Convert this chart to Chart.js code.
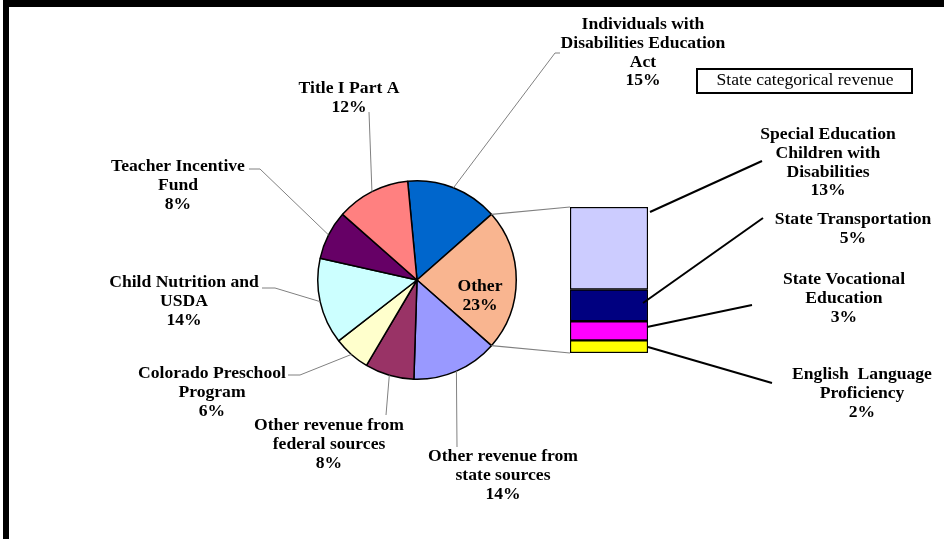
<!DOCTYPE html>
<html lang="en">
<head>
<meta charset="UTF-8" />
<title>Revenue sources</title>
<script src="https://cdn.jsdelivr.net/npm/chart.js@4.4.1/dist/chart.umd.min.js"></script>
<style>
  body { margin: 0; background: #fff; }
  #wrap { position: relative; width: 944px; height: 539px; overflow: hidden; }
  #wrap canvas { position: absolute; left: 0; top: 0; }
  #frame {
    position: absolute; left: 3px; top: 0; right: 0; bottom: 0;
    border-top: 7px solid #000; border-left: 6px solid #000;
  }
</style>
</head>
<body>
<div id="wrap">
  <div id="frame"></div>
  <canvas id="pieChart" width="944" height="539"></canvas>
  <canvas id="barChart" width="944" height="539"></canvas>
</div>
<script>
// pie slices, clockwise from the top
const pieLabels = [
  'Individuals with\nDisabilities Education\nAct',
  'Other',
  'Other revenue from\nstate sources',
  'Other revenue from\nfederal sources',
  'Colorado Preschool\nProgram',
  'Child Nutrition and\nUSDA',
  'Teacher Incentive\nFund',
  'Title I Part A'
]
const pieValues = [15, 23, 14, 8, 6, 14, 8, 12]
const pieColors = ['#0066CC', '#F9B590', '#9999FF', '#993366', '#FFFFCC', '#CCFFFF', '#660066', '#FF8080']

// bar segments that make up "Other", bottom to top
const barLabels = [
  'English  Language\nProficiency',
  'State Vocational\nEducation',
  'State Transportation',
  'Special Education\nChildren with\nDisabilities'
]
const barValues = [2, 3, 5, 13]
const barColors = ['#FFFF00', '#FF00FF', '#000080', '#CCCCFF']

const barTitle = 'State categorical revenue'

// label placement (first line centre + leader bends)
const pieLabelLayout = [
  { x: 643, y: 25, path: [[555, 53], [560, 53]] },
  { x: 480, y: 287 },
  { x: 503, y: 457, path: [[457, 447]] },
  { x: 329, y: 426, path: [[386, 415]] },
  { x: 212, y: 374, path: [[300, 375], [288, 375]] },
  { x: 184, y: 283, path: [[275, 288], [262, 288]] },
  { x: 178, y: 167, path: [[260, 169], [249, 169]] },
  { x: 349, y: 89, path: [[369, 112]] }
]
const barLabelLayout = [
  { x: 862, y: 375, fromY: 347, to: [772, 383], inset: 0 },
  { x: 844, y: 280, fromY: 327, to: [752, 305], inset: 1 },
  { x: 853, y: 220, fromY: 303, to: [763, 218], inset: 5 },
  { x: 828, y: 135, fromY: 212, to: [762, 161], inset: -2 }
]

const LINE_H = 18.7
const FONT = '"Liberation Serif", "Times New Roman", serif'

function drawLines(ctx, text, x, y, bold) {
  ctx.save()
  ctx.font = (bold ? 'bold ' : '') + '16px ' + FONT
  ctx.fillStyle = '#000'
  ctx.textAlign = 'center'
  ctx.textBaseline = 'middle'
  text.split('\n').forEach((t, i) => {
    ctx.save()
    ctx.translate(x, y + i * LINE_H)
    ctx.scale(1.1, 1)
    ctx.fillText(t, 0, 0)
    ctx.restore()
  })
  ctx.restore()
}

function pct(v, total) {
  return Math.round((v / total) * 100) + '%'
}

const pieTotal = pieValues.reduce((a, b) => a + b, 0)
// centre the "Other" slice on the right, like Excel's pie-of-bar
const pieRotation = 90 - (pieValues[1] / pieTotal) * 180 - (pieValues[0] / pieTotal) * 360

const pieLabelPlugin = {
  id: 'pieLabels',
  afterDraw(chart) {
    const ctx = chart.ctx
    const arcs = chart.getDatasetMeta(0).data
    arcs.forEach((arc, i) => {
      const lay = pieLabelLayout[i]
      const text = pieLabels[i] + '\n' + pct(pieValues[i], pieTotal)
      if (lay.path) {
        const mid = (arc.startAngle + arc.endAngle) / 2
        ctx.save()
        ctx.strokeStyle = '#808080'
        ctx.lineWidth = 1
        ctx.beginPath()
        ctx.moveTo(arc.x + arc.outerRadius * Math.cos(mid), arc.y + arc.outerRadius * Math.sin(mid))
        lay.path.forEach(p => ctx.lineTo(p[0], p[1]))
        ctx.stroke()
        ctx.restore()
      }
      drawLines(ctx, text, lay.x, lay.y, true)
    })

    // title box for the bar
    ctx.save()
    ctx.strokeStyle = '#000'
    ctx.lineWidth = 2
    ctx.strokeRect(697, 69, 215, 24)
    ctx.restore()
    drawLines(ctx, barTitle, 805, 81, false)
  }
}

const pieChart = new Chart(document.getElementById('pieChart'), {
  type: 'pie',
  data: {
    labels: pieLabels,
    datasets: [{
      data: pieValues,
      backgroundColor: pieColors,
      borderColor: '#000',
      borderWidth: 1.5
    }]
  },
  options: {
    responsive: false,
    devicePixelRatio: 1,
    animation: false,
    events: [],
    rotation: pieRotation,
    layout: { padding: { left: 317, right: 427, top: 180, bottom: 159 } },
    plugins: { legend: { display: false }, tooltip: { enabled: false } }
  },
  plugins: [pieLabelPlugin]
})

const barLabelPlugin = {
  id: 'barLabels',
  afterDraw(chart) {
    const ctx = chart.ctx
    const barTotal = barValues.reduce((a, b) => a + b, 0)
    const bars = barValues.map((v, i) => chart.getDatasetMeta(i).data[0])

    // connectors from the "Other" slice to the bar
    const other = pieChart.getDatasetMeta(0).data[1]
    const left = bars[0].x - bars[0].width / 2
    const top = bars[bars.length - 1].y
    const bottom = bars[0].base
    ctx.save()
    ctx.strokeStyle = '#808080'
    ctx.lineWidth = 1.2
    ctx.beginPath()
    ctx.moveTo(other.x + other.outerRadius * Math.cos(other.startAngle), other.y + other.outerRadius * Math.sin(other.startAngle))
    ctx.lineTo(left, top)
    ctx.moveTo(other.x + other.outerRadius * Math.cos(other.endAngle), other.y + other.outerRadius * Math.sin(other.endAngle))
    ctx.lineTo(left, bottom)
    ctx.stroke()
    ctx.restore()

    bars.forEach((bar, i) => {
      const lay = barLabelLayout[i]
      ctx.save()
      ctx.strokeStyle = '#000'
      ctx.lineWidth = 2
      ctx.beginPath()
      ctx.moveTo(bar.x + bar.width / 2 - lay.inset, lay.fromY)
      ctx.lineTo(lay.to[0], lay.to[1])
      ctx.stroke()
      ctx.restore()
      drawLines(ctx, barLabels[i] + '\n' + pct(barValues[i], barTotal * pieTotal / pieValues[1]), lay.x, lay.y, true)
    })
  }
}

new Chart(document.getElementById('barChart'), {
  type: 'bar',
  data: {
    labels: ['Other'],
    datasets: barValues.map((v, i) => ({
      label: barLabels[i],
      data: [v],
      backgroundColor: barColors[i],
      borderColor: '#000',
      borderWidth: 1.5,
      borderSkipped: false,
      barPercentage: 1,
      categoryPercentage: 1
    }))
  },
  options: {
    responsive: false,
    devicePixelRatio: 1,
    animation: false,
    events: [],
    layout: { padding: { left: 570, right: 296, top: 207, bottom: 186 } },
    scales: {
      x: { display: false, stacked: true },
      y: { display: false, stacked: true, min: 0, max: barValues.reduce((a, b) => a + b, 0) }
    },
    plugins: { legend: { display: false }, tooltip: { enabled: false } }
  },
  plugins: [barLabelPlugin]
})
</script>
</body>
</html>
